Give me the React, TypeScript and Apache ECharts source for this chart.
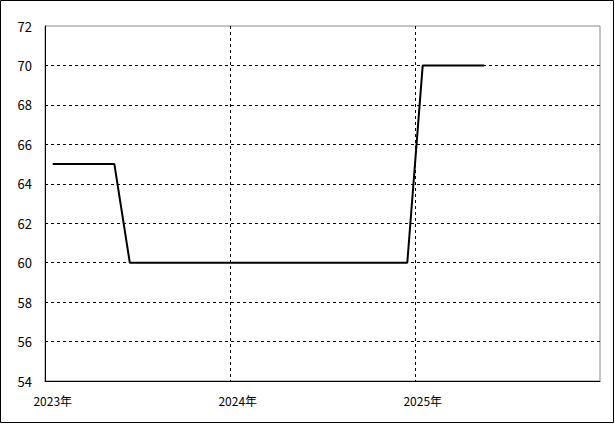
import React, { useEffect, useRef } from "react";
import * as echarts from "echarts";

const years = [2023, 2024, 2025];
const monthNumbers = [1, 2, 3, 4, 5, 6, 7, 8, 9, 10, 11, 12];
const categories = years.flatMap((y) => monthNumbers.map((m) => `${y}/${m}`));

const values = [
  65, 65, 65, 65, 65,
  60, 60, 60, 60, 60, 60, 60,
  60, 60, 60, 60, 60, 60, 60, 60, 60, 60, 60, 60,
  70, 70, 70, 70, 70,
];

const yMin = 54;
const yMax = 72;
const yStep = 2;

export default function App() {
  const ref = useRef<HTMLDivElement>(null);
  useEffect(() => {
    if (!ref.current) return;
    const chart = echarts.init(ref.current, undefined, { renderer: "svg" });
    const font = "'Noto Sans CJK JP', 'DejaVu Sans', sans-serif";
    chart.setOption({
      animation: false,
      backgroundColor: "#ffffff",
      graphic: [
        {
          type: "rect",
          shape: { x: 0.5, y: 0.5, width: 613, height: 422 },
          style: { fill: "none", stroke: "#000", lineWidth: 1 },
          silent: true,
          z: 100,
        },
      ],
      grid: {
        left: 45,
        right: 15,
        top: 26,
        bottom: 43,
        show: true,
        borderColor: "#888",
        borderWidth: 1,
        backgroundColor: "#fff",
      },
      xAxis: {
        type: "category",
        data: categories,
        boundaryGap: true,
        axisLine: { show: true, lineStyle: { color: "#000", width: 1 } },
        axisTick: { show: false },
        axisLabel: {
          interval: (i: number) => i % 12 === 0,
          formatter: (v: string) => v.split("/")[0] + "年",
          color: "#000",
          fontFamily: font,
          fontSize: 12,
          margin: 13,
        },
        splitLine: {
          show: true,
          interval: (i: number) => i % 12 === 0,
          showMinLine: false,
          showMaxLine: false,
          lineStyle: { color: "#000", type: [3, 3], width: 1 },
        },
      },
      yAxis: {
        type: "value",
        min: yMin,
        max: yMax,
        interval: yStep,
        axisLine: { show: true, lineStyle: { color: "#000", width: 1 } },
        axisTick: { show: false },
        axisLabel: {
          color: "#000",
          fontFamily: font,
          fontSize: 13,
          margin: 13,
        },
        splitLine: {
          show: true,
          showMinLine: false,
          showMaxLine: false,
          lineStyle: { color: "#000", type: [3, 3], width: 1 },
        },
      },
      series: [
        {
          type: "line",
          data: values,
          symbol: "none",
          lineStyle: { color: "#000", width: 2 },
        },
      ],
    });
    return () => chart.dispose();
  }, []);
  return (
    <div
      ref={ref}
      style={{ position: "fixed", left: 0, top: 0, width: 615, height: 424 }}
    />
  );
}
